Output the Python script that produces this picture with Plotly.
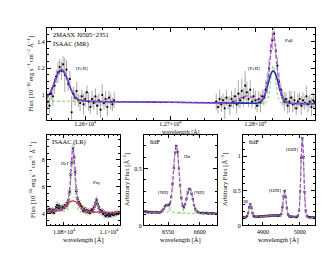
import numpy as np
import plotly.graph_objects as go

FONT = "Liberation Serif"

# ---------------- top panel: ISAAC (MR) ----------------
top_left_wl = np.arange(12556, 12635, 2)
top_left_flux = [0.95, 0.92, 1.01, 0.99, 1.07, 1.14, 1.17, 1.21, 1.18, 1.23,
                 1.15, 1.19, 1.08, 1.12, 0.87, 1.01, 0.98, 1.03, 0.96, 0.94,
                 0.99, 0.93, 0.97, 1.02, 0.95, 0.91, 0.97, 0.94, 0.99, 0.92,
                 0.96, 0.89, 1.00, 0.94, 0.97, 0.91, 0.98, 0.95, 0.93, 0.96]
top_left_err = [0.05, 0.06, 0.05, 0.07, 0.06, 0.05, 0.08, 0.06, 0.07, 0.06,
                0.13, 0.07, 0.05, 0.06, 0.12, 0.05, 0.06, 0.07, 0.05, 0.06,
                0.05, 0.08, 0.06, 0.05, 0.07, 0.05, 0.06, 0.05, 0.06, 0.07,
                0.05, 0.06, 0.08, 0.05, 0.06, 0.07, 0.05, 0.06, 0.05, 0.06]
top_right_wl = np.arange(12754, 12871, 2)
top_right_flux = [0.95, 0.91, 0.97, 0.93, 0.96, 0.90, 0.98, 0.94, 0.92, 0.97,
                  0.95, 0.99, 0.93, 1.01, 0.96, 1.03, 0.98, 1.07, 1.02, 0.97,
                  1.04, 0.95, 0.99, 0.96, 0.92, 0.97, 0.94, 0.99, 0.98, 1.04,
                  1.09, 1.20, 1.33, 1.41, 1.46, 1.33, 1.22, 1.10, 1.04, 0.98,
                  0.95, 0.97, 0.92, 0.95, 0.98, 0.93, 0.96, 0.90, 0.95, 0.97,
                  0.92, 0.96, 0.94, 0.99, 0.93, 0.95, 0.91, 0.96, 0.94]
top_right_err = [0.06, 0.05, 0.07, 0.06, 0.05, 0.08, 0.06, 0.05, 0.07, 0.06,
                 0.05, 0.06, 0.07, 0.10, 0.06, 0.09, 0.07, 0.11, 0.08, 0.06,
                 0.07, 0.05, 0.06, 0.07, 0.05, 0.06, 0.07, 0.05, 0.06, 0.07,
                 0.08, 0.07, 0.06, 0.07, 0.06, 0.05, 0.06, 0.07, 0.05, 0.06,
                 0.07, 0.05, 0.06, 0.08, 0.05, 0.06, 0.07, 0.05, 0.06, 0.05,
                 0.07, 0.06, 0.05, 0.08, 0.06, 0.05, 0.07, 0.06, 0.05]

top_total_wl = [12555, 12560, 12564, 12568, 12572, 12576, 12580, 12584, 12588, 12592,
                12596, 12604, 12700, 12750, 12765, 12770, 12775, 12780, 12785, 12790,
                12795, 12800, 12805, 12807, 12809, 12811, 12813, 12815, 12817, 12819,
                12820, 12821, 12822, 12823, 12825, 12827, 12829, 12831, 12833, 12835,
                12837, 12841, 12870]
top_total = [0.980, 1.031, 1.098, 1.162, 1.190, 1.162, 1.098, 1.031, 0.987, 0.965,
             0.958, 0.953, 0.945, 0.940, 0.941, 0.943, 0.952, 0.968, 0.985, 0.993,
             0.985, 0.969, 0.959, 0.963, 0.977, 1.003, 1.048, 1.124, 1.248, 1.392,
             1.442, 1.461, 1.442, 1.392, 1.248, 1.123, 1.046, 0.999, 0.971, 0.954,
             0.945, 0.938, 0.935]
top_broad_wl = [12555, 12560, 12564, 12568, 12572, 12576, 12580, 12584, 12588, 12592,
                12596, 12604, 12700, 12790, 12801, 12805, 12807, 12809, 12811, 12813,
                12815, 12817, 12819, 12821, 12823, 12825, 12827, 12829, 12831, 12833,
                12835, 12837, 12841, 12870]
top_broad = [0.980, 1.031, 1.098, 1.162, 1.190, 1.162, 1.098, 1.031, 0.987, 0.965,
             0.958, 0.953, 0.945, 0.939, 0.938, 0.945, 0.954, 0.971, 0.999, 1.038,
             1.085, 1.133, 1.168, 1.181, 1.168, 1.133, 1.085, 1.038, 0.999, 0.971,
             0.954, 0.945, 0.938, 0.935]
top_narrowL_wl = [12555, 12605]
top_narrowL = [0.955, 0.952]
top_narrowR_wl = [12753, 12800, 12811, 12813, 12815, 12816, 12817, 12818, 12819, 12820,
                  12821, 12822, 12823, 12824, 12825, 12826, 12827, 12829, 12831, 12870]
top_narrowR = [0.940, 0.939, 0.938, 0.946, 0.976, 1.008, 1.053, 1.108, 1.162, 1.203,
               1.218, 1.203, 1.162, 1.108, 1.053, 1.008, 0.976, 0.946, 0.938, 0.935]

# ---------------- panel 1: ISAAC (LR) ----------------
lr_wl = np.arange(10725, 11046, 5)
lr_flux = [4.25, 4.15, 4.32, 4.20, 4.10, 4.28, 4.05, 4.22, 4.45, 4.62,
           4.40, 4.55, 4.30, 4.38, 4.50, 4.42, 4.60, 4.55, 4.75, 5.00,
           5.60, 6.90, 7.80, 8.85, 8.20, 7.10, 5.70, 5.10, 4.85, 4.70,
           4.55, 4.45, 4.20, 4.35, 4.15, 4.25, 4.10, 4.20, 4.05, 4.15,
           4.30, 4.20, 4.50, 4.75, 5.00, 4.70, 4.45, 4.25, 4.10, 4.20,
           3.95, 4.05, 3.80, 3.90, 3.85, 3.95, 3.80, 3.92, 4.00, 3.88,
           4.02, 3.95, 4.05, 3.98, 4.08]
lr_err = [0.20, 0.18, 0.22, 0.20, 0.17, 0.21, 0.19, 0.20, 0.25, 0.28,
          0.22, 0.24, 0.20, 0.21, 0.23, 0.22, 0.25, 0.24, 0.26, 0.28,
          0.30, 0.35, 0.38, 0.40, 0.38, 0.35, 0.30, 0.28, 0.26, 0.25,
          0.24, 0.22, 0.20, 0.22, 0.19, 0.21, 0.18, 0.20, 0.19, 0.21,
          0.22, 0.20, 0.24, 0.26, 0.28, 0.25, 0.22, 0.20, 0.19, 0.21,
          0.18, 0.20, 0.17, 0.19, 0.18, 0.20, 0.17, 0.19, 0.18, 0.20,
          0.19, 0.18, 0.20, 0.17, 0.19]
lr_broad_wl = [10724, 10760, 10770, 10780, 10790, 10800, 10810, 10820, 10830, 10840,
               10850, 10860, 10870, 10880, 10890, 10900, 10910, 10920, 10960, 11049]
lr_broad = [4.200, 4.197, 4.214, 4.254, 4.332, 4.453, 4.610, 4.776, 4.901, 4.946,
            4.892, 4.757, 4.583, 4.416, 4.286, 4.199, 4.149, 4.124, 4.093, 4.050]
lr_narrow_wl = [10724, 10800, 10810, 10816, 10819, 10822, 10825, 10828, 10831, 10834,
                10837, 10840, 10843, 10846, 10849, 10852, 10855, 10858, 10861, 10864,
                10870, 10920, 10925, 10930, 10933, 10936, 10939, 10942, 10945, 10948,
                10951, 10954, 10957, 10960, 10965, 11049]
lr_narrow = [4.200, 4.165, 4.175, 4.267, 4.415, 4.684, 5.123, 5.751, 6.520, 7.269,
             7.838, 8.046, 7.835, 7.263, 6.512, 5.741, 5.110, 4.668, 4.397, 4.245,
             4.148, 4.110, 4.122, 4.185, 4.284, 4.452, 4.651, 4.829, 4.898, 4.827,
             4.647, 4.446, 4.276, 4.174, 4.106, 4.050]
lr_total_wl = [10724, 10760, 10780, 10790, 10800, 10810, 10816, 10819, 10822, 10825,
               10828, 10831, 10834, 10837, 10840, 10843, 10846, 10849, 10852, 10855,
               10858, 10861, 10864, 10870, 10880, 10890, 10900, 10910, 10920, 10925,
               10930, 10933, 10936, 10939, 10942, 10945, 10948, 10951, 10954, 10957,
               10960, 10965, 11049]
lr_total = [4.200, 4.197, 4.254, 4.332, 4.453, 4.625, 4.821, 5.019, 5.334, 5.816,
            6.481, 7.280, 8.051, 8.633, 8.846, 8.630, 8.046, 7.272, 6.471, 5.803,
            5.318, 5.001, 4.799, 4.598, 4.416, 4.286, 4.199, 4.149, 4.125, 4.132,
            4.192, 4.289, 4.456, 4.655, 4.832, 4.900, 4.829, 4.649, 4.447, 4.277,
            4.175, 4.106, 4.050]

# ---------------- panel 2: 6dF H-alpha ----------------
ha_wl = np.arange(6513, 6626, 2)
ha_flux = [0.125, 0.118, 0.121, 0.114, 0.119, 0.116, 0.112, 0.118, 0.115, 0.113,
           0.117, 0.112, 0.116, 0.120, 0.131, 0.145, 0.168, 0.180, 0.176, 0.182,
           0.195, 0.250, 0.365, 0.505, 0.640, 0.700, 0.645, 0.500, 0.355, 0.240,
           0.175, 0.160, 0.185, 0.232, 0.290, 0.322, 0.318, 0.280, 0.232, 0.180,
           0.143, 0.125, 0.115, 0.112, 0.110, 0.108, 0.112, 0.106, 0.110, 0.108,
           0.105, 0.109, 0.107, 0.104, 0.108, 0.106, 0.104]
ha_total_wl = [6512, 6530, 6536, 6540, 6542, 6544, 6546, 6548, 6550, 6552,
               6554, 6556, 6558, 6560, 6561, 6562, 6563, 6564, 6565, 6566,
               6568, 6570, 6572, 6574, 6576, 6578, 6580, 6582, 6584, 6586,
               6588, 6590, 6592, 6594, 6596, 6600, 6627]
ha_total = [0.115, 0.114, 0.114, 0.122, 0.134, 0.152, 0.170, 0.180, 0.179, 0.181,
            0.213, 0.296, 0.430, 0.582, 0.642, 0.683, 0.697, 0.683, 0.642, 0.582,
            0.428, 0.289, 0.200, 0.165, 0.174, 0.211, 0.262, 0.307, 0.325, 0.307,
            0.262, 0.208, 0.164, 0.134, 0.119, 0.110, 0.107]
nii_a_wl = [6512, 6536, 6540, 6542, 6544, 6546, 6548, 6550, 6552, 6554, 6556, 6560, 6627]
nii_a = [0.115, 0.114, 0.122, 0.134, 0.152, 0.170, 0.178, 0.170, 0.152, 0.134, 0.121, 0.112, 0.107]
ha_n_wl = [6548, 6550, 6552, 6554, 6556, 6558, 6560, 6561, 6562, 6563,
           6564, 6565, 6566, 6568, 6570, 6572, 6574, 6576, 6578]
ha_n = [0.114, 0.121, 0.141, 0.191, 0.286, 0.427, 0.581, 0.642, 0.683, 0.697,
        0.683, 0.642, 0.581, 0.427, 0.286, 0.191, 0.140, 0.120, 0.113]
nii_b_wl = [6566, 6570, 6572, 6574, 6576, 6578, 6580, 6582, 6584, 6586,
            6588, 6590, 6592, 6594, 6596, 6600]
nii_b = [0.111, 0.114, 0.120, 0.136, 0.165, 0.209, 0.262, 0.307, 0.325, 0.307,
         0.262, 0.208, 0.164, 0.135, 0.119, 0.110]

# ---------------- panel 3: 6dF H-beta / [OIII] ----------------
hb_wl = np.arange(4845, 5041, 3)
hb_flux = [0.112, 0.118, 0.115, 0.121, 0.134, 0.176, 0.262, 0.305, 0.258, 0.178,
           0.136, 0.126, 0.122, 0.128, 0.124, 0.130, 0.127, 0.133, 0.129, 0.135,
           0.131, 0.138, 0.134, 0.140, 0.136, 0.143, 0.139, 0.145, 0.140, 0.146,
           0.141, 0.144, 0.139, 0.142, 0.146, 0.168, 0.265, 0.420, 0.497, 0.405,
           0.255, 0.160, 0.136, 0.128, 0.125, 0.127, 0.122, 0.124, 0.121, 0.125,
           0.141, 0.215, 0.490, 0.975, 1.255, 0.985, 0.480, 0.215, 0.140, 0.124,
           0.120, 0.118, 0.121, 0.117, 0.119, 0.116]
hb_total_wl = [4846, 4852, 4854, 4856, 4858, 4860, 4862, 4864, 4866, 4868,
               4870, 4872, 4874, 4876, 4878, 4880, 4900, 4920, 4940, 4945,
               4947, 4949, 4951, 4953, 4955, 4957, 4959, 4961, 4963, 4965,
               4967, 4969, 4971, 4976, 4991, 4995, 4997, 4999, 5001, 5003,
               5005, 5007, 5009, 5011, 5013, 5015, 5017, 5019, 5021, 5041]
hb_total = [0.115, 0.118, 0.120, 0.127, 0.144, 0.179, 0.230, 0.280, 0.302, 0.280,
            0.230, 0.179, 0.145, 0.128, 0.124, 0.125, 0.130, 0.140, 0.140, 0.140,
            0.143, 0.154, 0.186, 0.253, 0.353, 0.452, 0.493, 0.450, 0.349, 0.247,
            0.178, 0.144, 0.132, 0.126, 0.122, 0.133, 0.171, 0.273, 0.487, 0.806,
            1.117, 1.250, 1.117, 0.806, 0.487, 0.273, 0.171, 0.133, 0.121, 0.118]

PURPLE = "#b043d6"
BLUE = "#1f2fa8"
GREEN = "#6ad84a"
RED = "#d42a2a"

fig = go.Figure()


def add(x, y, ax, **kw):
    fig.add_trace(go.Scatter(x=x, y=y, xaxis="x" + ax, yaxis="y" + ax,
                             showlegend=False, hoverinfo="skip", **kw))


def data(x, y, ax, err=None, sym="circle", size=2.2, color="black"):
    kw = dict(mode="markers", marker=dict(symbol=sym, size=size, color=color,
                                          line=dict(width=0)))
    if err is not None:
        kw["error_y"] = dict(type="data", array=err, visible=True,
                             color="#6f6f6f", thickness=0.6, width=0)
    add(x, y, ax, **kw)


def line(x, y, ax, color, width, dash="solid"):
    add(x, y, ax, mode="lines",
        line=dict(color=color, width=width, dash=dash, shape="spline", smoothing=0.6))


# top
data(top_left_wl, top_left_flux, "", top_left_err)
data(top_right_wl, top_right_flux, "", top_right_err)
line(top_narrowL_wl, top_narrowL, "", GREEN, 1.0, "3px,2px")
line(top_narrowR_wl, top_narrowR, "", GREEN, 1.0, "3px,2px")
line(top_broad_wl, top_broad, "", BLUE, 1.6)
line(top_total_wl, top_total, "", PURPLE, 1.3, "4px,2px")

# panel 1
data(lr_wl, lr_flux, "2", lr_err, sym="x-thin-open", size=2.6)
line(lr_narrow_wl, lr_narrow, "2", GREEN, 1.0, "3px,2px")
line(lr_broad_wl, lr_broad, "2", RED, 1.3)
line(lr_total_wl, lr_total, "2", PURPLE, 1.3, "4px,2px")

# panel 2
data(ha_wl, ha_flux, "3", sym="x", size=2.4, color="#2a1f33")
line(nii_a_wl, nii_a, "3", GREEN, 1.0, "3px,2px")
line(ha_n_wl, ha_n, "3", GREEN, 1.0, "3px,2px")
line(nii_b_wl, nii_b, "3", GREEN, 1.0, "3px,2px")
line(ha_total_wl, ha_total, "3", PURPLE, 1.2, "4px,2px")

# panel 3
data(hb_wl, hb_flux, "4", sym="x", size=2.4, color="#2a1f33")
line(hb_total_wl, hb_total, "4", GREEN, 1.0, "3px,2px")
line(hb_total_wl, hb_total, "4", PURPLE, 1.2, "4px,2px")

common = dict(showline=True, linecolor="black", linewidth=0.8, mirror="allticks",
              ticks="inside", ticklen=4, tickwidth=0.7, tickcolor="black",
              showgrid=False, zeroline=False, tickmode="array",
              tickfont=dict(family=FONT, size=6, color="black"))


def minor(d, t0=0):
    return dict(ticks="inside", ticklen=2, tickwidth=0.6, tickcolor="black",
                tickmode="linear", dtick=d, tick0=t0, showgrid=False)


sup4 = "×10<sup>4</sup>"
fig.update_layout(
    width=330, height=255, autosize=False,
    margin=dict(l=0, r=0, t=0, b=0),
    paper_bgcolor="white", plot_bgcolor="white",
    font=dict(family=FONT, size=6, color="black"),
    xaxis=dict(common, domain=[0.118, 0.930], anchor="y", range=[12555, 12870],
               tickvals=[12600, 12700, 12800],
               ticktext=["1.26" + sup4, "1.27" + sup4, "1.28" + sup4],
               ticklabelstandoff=-2,
               minor=minor(20, 12600)),
    yaxis=dict(common, domain=[0.557, 0.922], anchor="x", range=[0.815, 1.505],
               tickvals=[1, 1.2, 1.4], ticktext=["1", "1.2", "1.4"],
               minor=minor(0.05)),
    xaxis2=dict(common, domain=[0.118, 0.339], anchor="y2", range=[10724, 11049],
                tickvals=[10800, 11000], ticktext=["1.08" + sup4, "1.1" + sup4],
                minor=minor(20, 10800)),
    yaxis2=dict(common, domain=[0.137, 0.498], anchor="x2", range=[3.1, 9.9],
                tickvals=[4, 6, 8], ticktext=["4", "6", "8"], minor=minor(0.5)),
    xaxis3=dict(common, domain=[0.412, 0.633], anchor="y3", range=[6512, 6627],
                tickvals=[6550, 6600], ticktext=["6550", "6600"],
                minor=minor(10, 6550)),
    yaxis3=dict(common, domain=[0.137, 0.498], anchor="x3", range=[0, 0.8],
                tickvals=[0, 0.5], ticktext=["0", "0.5"], minor=minor(0.1)),
    xaxis4=dict(common, domain=[0.712, 0.930], anchor="y4", range=[4846, 5041],
                tickvals=[4900, 5000], ticktext=["4900", "5000"],
                minor=minor(20, 4900)),
    yaxis4=dict(common, domain=[0.137, 0.498], anchor="x4", range=[0, 1.31],
                tickvals=[0, 0.5, 1], ticktext=["0", "0.5", "1"], minor=minor(0.1)),
)

flux_title = "Flux [10<sup>−16</sup> erg s<sup>−1</sup> cm<sup>−2</sup> Å<sup>−1</sup>]"
arb_title = "Arbitrary Flux [Å<sup>−1</sup>]"

ann = []


def txt(text, x, y, xref, yref, size=6.5, xanchor="center", yanchor="middle", angle=0):
    ann.append(dict(text=text, x=x, y=y, xref=xref, yref=yref, showarrow=False,
                    xanchor=xanchor, yanchor=yanchor, textangle=angle,
                    font=dict(family=FONT, size=size, color="black")))


# axis titles (paper)
txt("wavelength [Å]", 0.524, 0.509, "paper", "paper", 6)
for xc in (0.229, 0.523, 0.821):
    txt("wavelength [Å]", xc, 0.080, "paper", "paper", 6.5)
txt(flux_title, 0.070, 0.739, "paper", "paper", 6.5, angle=-90)
txt(flux_title, 0.076, 0.318, "paper", "paper", 6.5, angle=-90)
txt(arb_title, 0.361, 0.318, "paper", "paper", 6.5, angle=-90)
txt(arb_title, 0.658, 0.318, "paper", "paper", 6.5, angle=-90)

# in-panel labels (data coordinates)
txt("2MASX J0505−2351", 12560, 1.453, "x", "y", 6.5, xanchor="left")
txt("ISAAC (MR)", 12560, 1.386, "x", "y", 6.5, xanchor="left")
txt("[FeII]", 12596, 1.20, "x", "y", 5)
txt("[FeII]", 12798, 1.20, "x", "y", 5)
txt("Paβ", 12840, 1.41, "x", "y", 5)

txt("ISAAC (LR)", 10737, 9.35, "x2", "y2", 6.5, xanchor="left")
txt("HeI", 10806, 7.70, "x2", "y2", 5)
txt("Paγ", 10947, 6.28, "x2", "y2", 5)

txt("6dF", 6518, 0.735, "x3", "y3", 6.5, xanchor="left")
txt("Hα", 6580, 0.61, "x3", "y3", 5)
txt("[NII]", 6543, 0.29, "x3", "y3", 5)
txt("[NII]", 6600, 0.29, "x3", "y3", 5)

txt("6dF", 4857, 1.205, "x4", "y4", 6.5, xanchor="left")
txt("Hβ", 4853, 0.34, "x4", "y4", 5)
txt("[OIII]", 4933, 0.50, "x4", "y4", 5)
txt("[OIII]", 4979, 1.10, "x4", "y4", 5)

fig.update_layout(annotations=ann)
fig.write_html("out.html")
